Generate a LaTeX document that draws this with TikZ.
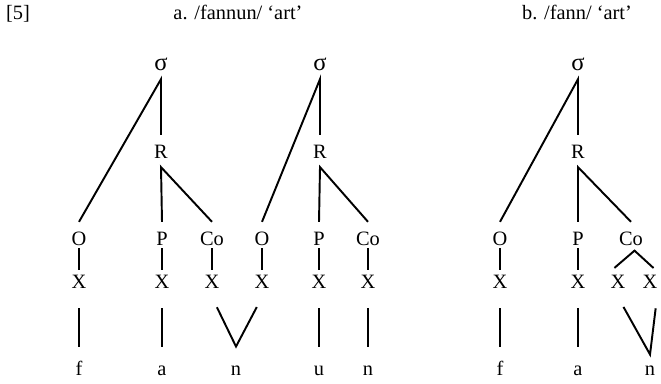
\documentclass[tikz,border=0pt]{standalone}
\usepackage{fontspec}
\setmainfont{Liberation Serif}
\usepackage{tikz}
\usetikzlibrary{positioning}

\begin{document}
\begin{tikzpicture}[
x=0.02cm, y=-0.02cm,
font=\fontsize{11.6}{14}\selectfont,
every node/.style={text height=8pt, text depth=0pt, inner xsep=1pt, inner ysep=5pt, anchor=base},
syl/.style={font=\fontsize{14}{14}\selectfont},
branch/.style={line width=1.1pt},
skel/.style={line width=1.1pt, shorten <=-3.3pt, shorten >=-2.7pt},
fork/.style={line width=1.1pt, shorten <=-2.7pt, shorten >=-2.7pt},
assoc/.style={line width=1.1pt, shorten <=6.4pt, shorten >=3pt},
vassoc/.style={line width=1.1pt, shorten <=6.4pt, shorten >=6.4pt}
]
    \useasboundingbox (0,0) rectangle (661,383);

    % Captions
    \node[anchor=base west] (num) at (4,19) {[5]};
    \node (capa) at (238,19) {a. /fannun/ ‘art’};
    \node (capb) at (577,19) {b. /fann/ ‘art’};

    % Syllables and rhymes
    \node[syl] (s1) at (161,70) {σ};
    \node[syl] (s2) at (320,70) {σ};
    \node[syl] (s3) at (578,70) {σ};
    \node (r1) at (161,158) {R};
    \node (r2) at (320,158) {R};
    \node (r3) at (578,158) {R};

    % Onsets, peaks, codas
    \node (o1) at (79,245) {O};
    \node (p1) at (162,245) {P};
    \node (co1) at (212,245) {Co};
    \node (o2) at (262,245) {O};
    \node (p2) at (319,245) {P};
    \node (co2) at (368,245) {Co};
    \node (o3) at (500,245) {O};
    \node (p3) at (578,245) {P};
    \node (co3) at (631,245) {Co};

    % Skeleton
    \node (x1a) at (79,288) {X};
    \node (x1b) at (162,288) {X};
    \node (x1c) at (212,288) {X};
    \node (x1d) at (262,288) {X};
    \node (x1e) at (319,288) {X};
    \node (x1f) at (368,288) {X};
    \node (x3a) at (500,288) {X};
    \node (x3b) at (578,288) {X};
    \node (x3c) at (618,288) {X};
    \node (x3d) at (650,288) {X};

    % Segments
    \node (f1) at (79,375) {f};
    \node (a1) at (162,375) {a};
    \node (n1) at (236,375) {n};
    \node (u1) at (319,375) {u};
    \node (n2) at (368,375) {n};
    \node (f3) at (500,375) {f};
    \node (a3) at (578,375) {a};
    \node (n3) at (650,375) {n};

    % Tree branches
    \draw[branch] (o1.north) -- (s1.south) -- (r1.north);
    \draw[branch] (p1.north) -- (r1.south) -- (co1.north);
    \draw[branch] (o2.north) -- (s2.south) -- (r2.north);
    \draw[branch] (p2.north) -- (r2.south) -- (co2.north);
    \draw[branch] (o3.north) -- (s3.south) -- (r3.north);
    \draw[branch] (p3.north) -- (r3.south) -- (co3.north);

    \draw[skel] (o1.south) -- (x1a.north);
    \draw[skel] (p1.south) -- (x1b.north);
    \draw[skel] (co1.south) -- (x1c.north);
    \draw[skel] (o2.south) -- (x1d.north);
    \draw[skel] (p2.south) -- (x1e.north);
    \draw[skel] (co2.south) -- (x1f.north);
    \draw[skel] (o3.south) -- (x3a.north);
    \draw[skel] (p3.south) -- (x3b.north);
    \draw[fork] (x3c.north) -- ([xshift=2pt,yshift=2pt]co3.south) -- (x3d.north);

    % Association lines
    \draw[assoc] (x1a.south) -- (f1.north);
    \draw[assoc] (x1b.south) -- (a1.north);
    \draw[vassoc] (x1c.south) -- ([yshift=3pt]n1.north) -- (x1d.south);
    \draw[assoc] (x1e.south) -- (u1.north);
    \draw[assoc] (x1f.south) -- (n2.north);
    \draw[assoc] (x3a.south) -- (f3.north);
    \draw[assoc] (x3b.south) -- (a3.north);
    \draw[vassoc] (x3c.south) -- ([yshift=-1.5pt]n3.north) -- ([xshift=4pt]x3d.south);

\end{tikzpicture}
\end{document}
